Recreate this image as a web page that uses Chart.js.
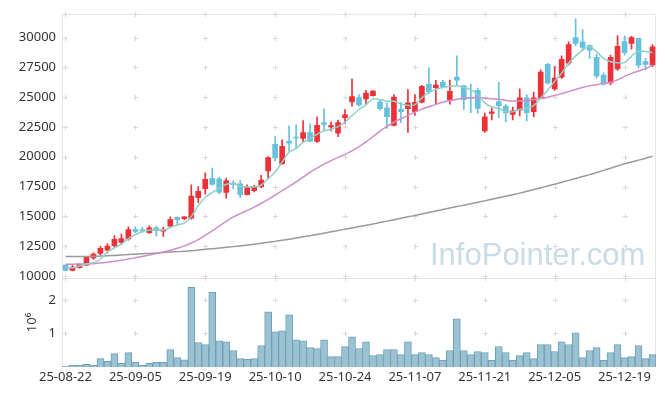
<!DOCTYPE html>
<html lang="ko">
<head>
<meta charset="UTF-8" />
<title>Candle chart</title>
<script src="https://cdn.jsdelivr.net/npm/chart.js"></script>
<style>
  body { margin: 0; background: #fff; }
  #wrap { position: relative; width: 665px; height: 396px; }
  #mark {
    position: absolute; left: 430px; top: 239px;
    font: 31px/31px "Liberation Sans", Arial, sans-serif;
    color: #c9dbe6; pointer-events: none; white-space: nowrap;
  }
</style>
</head>
<body>
<div id="wrap">
  <canvas id="chart" width="665" height="396"></canvas>
  <div id="mark">InfoPointer.com</div>
</div>
<script>
// trading days
const dates = [
  '25-08-22','25-08-25','25-08-26','25-08-27','25-08-28','25-08-29',
  '25-09-01','25-09-02','25-09-03','25-09-04','25-09-05',
  '25-09-08','25-09-09','25-09-10','25-09-11','25-09-12',
  '25-09-15','25-09-16','25-09-17','25-09-18','25-09-19',
  '25-09-22','25-09-23','25-09-24','25-09-25','25-09-26',
  '25-09-29','25-09-30','25-10-01','25-10-02','25-10-10',
  '25-10-13','25-10-14','25-10-15','25-10-16','25-10-17',
  '25-10-20','25-10-21','25-10-22','25-10-23','25-10-24',
  '25-10-27','25-10-28','25-10-29','25-10-30','25-10-31',
  '25-11-03','25-11-04','25-11-05','25-11-06','25-11-07',
  '25-11-10','25-11-11','25-11-12','25-11-13','25-11-14',
  '25-11-17','25-11-18','25-11-19','25-11-20','25-11-21',
  '25-11-24','25-11-25','25-11-26','25-11-27','25-11-28',
  '25-12-01','25-12-02','25-12-03','25-12-04','25-12-05',
  '25-12-08','25-12-09','25-12-10','25-12-11','25-12-12',
  '25-12-15','25-12-16','25-12-17','25-12-18','25-12-19',
  '25-12-22','25-12-23','25-12-24','25-12-26'
];

const opens = [
  10910,10470,10690,10910,11520,11880,12160,12550,12820,13100,
  13900,13840,13630,14040,13760,14180,14920,14800,14840,16560,
  17330,18200,18160,17000,17800,17720,16830,17160,17470,18820,
  21040,19400,21290,21620,21540,22030,21290,22860,22510,21980,
  23280,24610,24970,24860,25130,24610,24110,22640,24000,24030,
  23780,24580,26080,25800,26240,24800,26680,25960,24990,25580,
  22180,23640,24630,24250,23550,23910,24940,23780,24940,27760,
  25690,26680,27850,30000,29640,29340,28340,26850,26190,27370,
  29670,29510,29950,28000,27700
];
const highs = [
  10960,10890,11050,11650,11930,12490,12710,13380,13510,14130,
  14130,14070,14210,14180,14100,14960,14950,14980,17640,17500,
  18660,19060,18300,18220,17990,18000,17640,17600,18440,20020,
  21700,21430,22590,22680,23030,22760,23360,24030,22940,23090,
  23970,26520,25210,25580,25550,24800,24530,25210,24580,25630,
  25210,26000,27490,26410,26410,26430,28480,25990,26100,25770,
  23670,24110,26240,24380,24170,25710,25210,25440,27290,27850,
  27570,28480,29640,31580,30670,29400,28590,27040,28530,30170,
  30140,30110,29970,28260,29420
];
const lows = [
  10450,10420,10650,10880,11390,11740,11930,12410,12630,13010,
  13630,13650,13570,13350,13320,14070,14230,14700,14760,16140,
  16860,17620,16890,16530,17300,16560,16800,17060,17390,18160,
  19650,19380,20480,20650,21260,21260,21200,22200,22180,21680,
  22810,24250,24250,24380,25080,23920,22390,22590,22870,22040,
  23470,24530,25300,24440,25770,24420,26040,23970,23700,23640,
  22040,23090,23280,22920,23090,23420,23000,23360,24880,26100,
  25580,26580,27700,29310,28900,28260,26600,26040,26040,27240,
  28530,29030,27430,27290,27570
];
const closes = [
  10470,10750,10970,11580,11830,12320,12510,13070,13130,13880,
  13740,13790,14040,13790,13880,14730,14730,14950,16700,17110,
  18110,17690,17030,17990,17660,16830,17440,17530,18050,19930,
  19900,20870,21150,21580,22030,21310,22640,22720,22620,22860,
  23530,25050,24360,25350,25520,24030,23360,25020,23780,24530,
  24580,25910,25460,26020,25880,25500,26430,24800,24890,24050,
  23360,23780,24300,23700,23860,24940,23700,24940,27100,26190,
  26600,28180,29420,29510,29170,28950,26790,26100,28340,29260,
  28730,30000,27680,27760,29230
];
const volumes = [
  20000,50000,50000,80000,50000,250000,170000,400000,110000,430000,
  140000,50000,110000,140000,140000,520000,280000,210000,2370000,730000,
  670000,2230000,780000,750000,490000,250000,230000,250000,640000,1640000,
  1050000,1080000,1550000,810000,780000,580000,550000,810000,310000,310000,
  610000,900000,550000,750000,340000,370000,520000,520000,370000,750000,
  370000,430000,370000,280000,200000,490000,1430000,490000,370000,460000,
  430000,200000,610000,430000,200000,340000,430000,250000,670000,670000,
  460000,750000,670000,1020000,280000,490000,580000,200000,430000,670000,
  280000,310000,640000,250000,370000
];
// moving averages
const ma5 = [
  10690,10690,10830,11020,11100,11400,12020,12350,12680,13130,
  13460,13735,13840,13876,13850,14070,14290,14425,14980,15900,
  16600,17000,17330,17690,17740,17550,17470,17480,17610,18160,
  18720,19550,20380,20710,21200,21540,21890,22180,22310,22530,
  22920,23450,23970,24380,24860,24800,24670,24660,24440,24300,
  24380,24940,25410,25630,25830,25910,25960,25830,25630,25210,
  24520,24190,24070,23800,23780,23970,24050,24300,24940,25580,
  26330,27020,27850,28450,28950,29230,28820,28260,27980,27900,
  27900,28450,28870,28820,28760
];
const ma20 = [
  10980,10990,11000,11010,11030,11080,11150,11230,11320,11420,
  11530,11640,11760,11880,12000,12150,12320,12520,12760,13050,
  13400,13780,14180,14580,14950,15230,15500,15780,16080,16420,
  16780,17150,17520,17900,18300,18700,19050,19380,19680,19950,
  20200,20500,20850,21250,21700,22150,22550,22900,23200,23480,
  23750,24000,24200,24400,24580,24720,24830,24920,24960,24960,
  24920,24870,24820,24740,24680,24680,24720,24800,24880,25000,
  25140,25300,25480,25650,25820,25950,26050,26150,26250,26450,
  26750,27000,27200,27400,27680
];
const ma120 = [
  11630,11630,11635,11640,11650,11670,11690,11720,11750,11790,
  11830,11860,11890,11920,11960,12000,12040,12080,12120,12170,
  12230,12280,12340,12400,12460,12520,12590,12660,12740,12820,
  12900,12990,13080,13180,13280,13380,13480,13590,13700,13810,
  13920,14030,14140,14250,14360,14480,14600,14720,14840,14960,
  15080,15200,15320,15450,15570,15700,15820,15940,16060,16180,
  16300,16430,16560,16690,16820,16950,17100,17250,17400,17550,
  17700,17860,18020,18180,18340,18500,18680,18860,19040,19220,
  19420,19560,19720,19880,20050
];
const priceTicks = [10000, 12500, 15000, 17500, 20000, 22500, 25000, 27500, 30000];
const volumeTicks = [1000000, 2000000];
const xTickDates = ['25-08-22','25-09-05','25-09-19','25-10-10','25-10-24','25-11-07','25-11-21','25-12-05','25-12-19'];

const UP = '#ee3139', DOWN = '#67c0dc';
const candleColor = dates.map((d, i) => closes[i] >= opens[i] ? UP : DOWN);

// grid drawn as small crosses + light frame
const crossGrid = {
  id: 'crossGrid',
  beforeDatasetsDraw(chart) {
    const { ctx, chartArea: a, scales: { x, y, v } } = chart;
    ctx.save();
    ctx.lineWidth = 1;
    ctx.strokeStyle = '#e4e4e4';
    ctx.beginPath();
    ctx.moveTo(a.left + 0.5, a.bottom);
    ctx.lineTo(a.left + 0.5, a.top + 0.5);
    ctx.lineTo(a.right - 0.5, a.top + 0.5);
    ctx.lineTo(a.right - 0.5, a.bottom);
    ctx.moveTo(a.left, Math.round(y.bottom) + 0.5);
    ctx.lineTo(a.right, Math.round(y.bottom) + 0.5);
    ctx.stroke();

    const ys = [y.top, y.bottom]
      .concat(priceTicks.map(t => y.getPixelForValue(t)))
      .concat(volumeTicks.map(t => v.getPixelForValue(t)));
    ctx.strokeStyle = '#d9d9d9';
    ctx.beginPath();
    xTickDates.forEach(d => {
      const px = Math.round(x.getPixelForValue(dates.indexOf(d))) + 0.5;
      ys.forEach(py => {
        py = Math.round(py) + 0.5;
        ctx.moveTo(px - 2.5, py); ctx.lineTo(px + 2.5, py);
        ctx.moveTo(px, py - 2.5); ctx.lineTo(px, py + 2.5);
      });
    });
    ctx.stroke();
    ctx.restore();
  }
};

Chart.defaults.font.family = '"Noto Sans", sans-serif';
Chart.defaults.font.size = 13;
Chart.defaults.color = '#333';

new Chart(document.getElementById('chart'), {
  type: 'bar',
  data: {
    labels: dates,
    datasets: [
      { type: 'line', data: ma5, borderColor: '#8fd0c6', borderWidth: 1.5, pointRadius: 0, tension: 0.3, yAxisID: 'y', order: 0 },
      { type: 'line', data: ma20, borderColor: '#d08ccb', borderWidth: 1.5, pointRadius: 0, tension: 0.3, yAxisID: 'y', order: 0 },
      { type: 'line', data: ma120, borderColor: '#9a9a9a', borderWidth: 1.5, pointRadius: 0, tension: 0.3, yAxisID: 'y', order: 0 },
      { data: lows.map((l, i) => [l, highs[i]]), backgroundColor: candleColor, barThickness: 1, grouped: false, yAxisID: 'y', order: 2 },
      { data: opens.map((o, i) => [Math.min(o, closes[i]), Math.max(o, closes[i])]), backgroundColor: candleColor, barThickness: 5, minBarLength: 1, grouped: false, yAxisID: 'y', order: 1 },
      { data: volumes, backgroundColor: '#9bc2d3', borderColor: '#6e9fb6', borderWidth: 1, barPercentage: 1, categoryPercentage: 1, grouped: false, yAxisID: 'v', order: 3 }
    ]
  },
  options: {
    responsive: false,
    animation: false,
    layout: { padding: { top: 10, right: 9, left: 0, bottom: 0 } },
    plugins: { legend: { display: false }, tooltip: { enabled: false } },
    scales: {
      x: {
        afterBuildTicks: s => { s.ticks = xTickDates.map(d => ({ value: dates.indexOf(d) })); },
        afterFit: s => { s.height = 29; },
        grid: { display: false, drawTicks: false },
        border: { display: false },
        ticks: { autoSkip: false, maxRotation: 0, padding: 2 }
      },
      // volume panel listed first: stacked axes are placed bottom-up
      v: {
        position: 'left', stack: 'panel', stackWeight: 90,
        min: 0, max: 2650000,
        afterBuildTicks: s => { s.ticks = volumeTicks.map(t => ({ value: t })); },
        afterFit: s => { s.width = 62; },
        grid: { display: false, drawTicks: false },
        border: { display: false },
        ticks: { autoSkip: false, padding: 6, callback: t => String(t / 1000000) },
        title: { display: true, text: '10⁶', padding: { top: 24, bottom: 0 } }
      },
      y: {
        position: 'left', stack: 'panel', stackWeight: 267,
        min: 9830, max: 32000,
        afterBuildTicks: s => { s.ticks = priceTicks.map(t => ({ value: t })); },
        afterFit: s => { s.width = 62; },
        grid: { display: false, drawTicks: false },
        border: { display: false },
        ticks: { autoSkip: false, padding: 6, callback: t => String(t) }
      }
    }
  },
  plugins: [crossGrid]
});
</script>
</body>
</html>
